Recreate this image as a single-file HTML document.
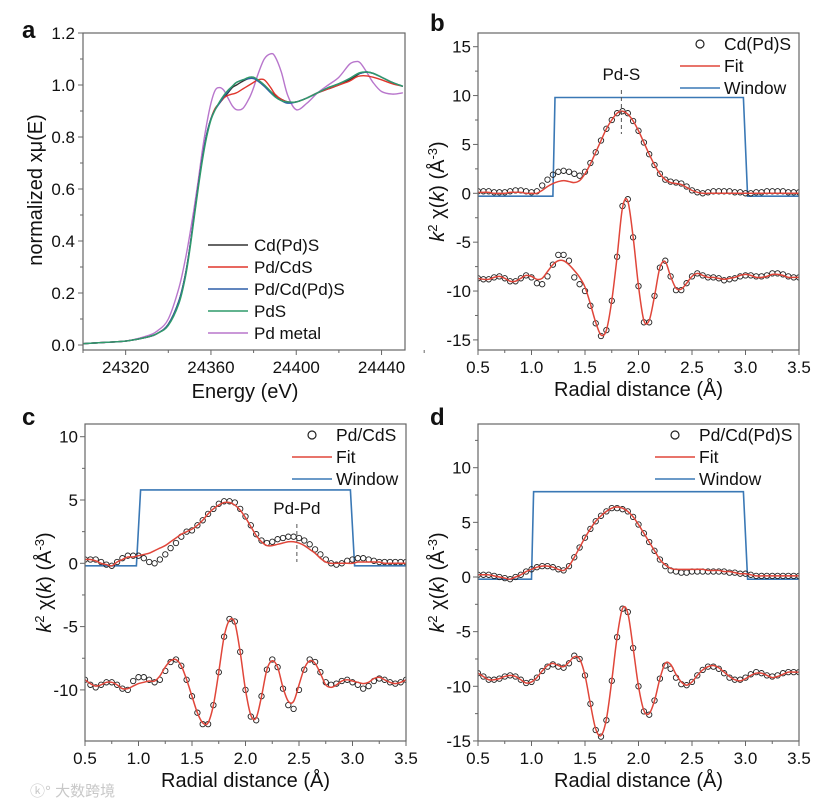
<!DOCTYPE html>
<html><head><meta charset="utf-8">
<style>
html,body{margin:0;padding:0;background:#fff;}
svg{display:block;font-family:"Liberation Sans","Noto Sans CJK SC",sans-serif;}
</style></head>
<body>
<svg id="fig" width="831" height="810" viewBox="0 0 831 810" xmlns="http://www.w3.org/2000/svg">
<text x="30" y="796" font-size="15" fill="#c8c8c8">ⓚ° 大数跨境</text>
</svg>
<script>
// ===== Panel a data =====
const energyA = [24300,24310,24320,24330,24335,24340,24345,24348,24350,24352,24354,24356,24358,24360,24362,24364,24366,24368,24370,24372,24375,24378,24380,24382,24385,24388,24390,24393,24396,24400,24405,24410,24415,24420,24425,24428,24430,24433,24436,24440,24445,24450];
const muCdPdS = [0.005,0.01,0.015,0.03,0.045,0.08,0.17,0.27,0.37,0.49,0.61,0.72,0.81,0.87,0.91,0.93,0.95,0.97,0.99,1.0,1.015,1.025,1.025,1.02,1.0,0.975,0.96,0.945,0.935,0.935,0.95,0.97,0.985,1.0,1.02,1.035,1.045,1.05,1.045,1.03,1.01,0.995];
const muPdCdS = [0.005,0.01,0.015,0.03,0.045,0.08,0.17,0.27,0.37,0.49,0.61,0.72,0.81,0.87,0.91,0.93,0.95,0.96,0.965,0.97,0.985,1.0,1.01,1.02,1.02,0.99,0.965,0.945,0.935,0.935,0.95,0.97,0.985,1.0,1.015,1.03,1.035,1.035,1.03,1.02,1.005,0.995];
const muPdCdPdS = [0.005,0.01,0.015,0.03,0.045,0.08,0.17,0.27,0.37,0.49,0.61,0.72,0.81,0.87,0.905,0.93,0.955,0.975,0.995,1.01,1.02,1.025,1.025,1.015,0.995,0.97,0.955,0.94,0.93,0.935,0.95,0.97,0.99,1.005,1.025,1.04,1.045,1.05,1.045,1.03,1.01,0.995];
const muPdS = [0.005,0.01,0.015,0.03,0.045,0.075,0.16,0.26,0.36,0.48,0.6,0.71,0.8,0.865,0.905,0.935,0.96,0.98,0.995,1.01,1.02,1.03,1.03,1.02,1.0,0.975,0.955,0.94,0.935,0.935,0.95,0.97,0.99,1.005,1.025,1.04,1.048,1.05,1.045,1.03,1.01,0.995];
const muPdMetal = [0.005,0.01,0.015,0.035,0.055,0.1,0.22,0.33,0.42,0.52,0.63,0.75,0.85,0.93,0.98,0.99,0.98,0.95,0.92,0.905,0.91,0.95,0.99,1.04,1.1,1.12,1.11,1.05,0.96,0.905,0.93,0.97,1.0,1.03,1.08,1.09,1.085,1.05,1.01,0.975,0.965,0.97];
const xTicksA = [24320,24360,24400,24440];
const yTicksA = ["0.0","0.2","0.4","0.6","0.8","1.0","1.2"];
const legendA = ["Cd(Pd)S","Pd/CdS","Pd/Cd(Pd)S","PdS","Pd metal"];

// ===== Radial grid shared by panels b-d =====
const radial = [0.5,0.55,0.6,0.65,0.7,0.75,0.8,0.85,0.9,0.95,1.0,1.05,1.1,1.15,1.2,1.25,1.3,1.35,1.4,1.45,1.5,1.55,1.6,1.65,1.7,1.75,1.8,1.85,1.9,1.95,2.0,2.05,2.1,2.15,2.2,2.25,2.3,2.35,2.4,2.45,2.5,2.55,2.6,2.65,2.7,2.75,2.8,2.85,2.9,2.95,3.0,3.05,3.1,3.15,3.2,3.25,3.3,3.35,3.4,3.45,3.5];
const xTicksR = ["0.5","1.0","1.5","2.0","2.5","3.0","3.5"];

// Panel b
const bTopFit = [0.1,0.1,0.1,0,0,0,0.1,0.1,0.1,0,0,0,0.3,0.7,1.0,1.2,1.3,1.2,1.1,1.3,2.0,3.0,4.2,5.4,6.6,7.5,8.2,8.4,8.1,7.4,6.4,5.2,4.0,2.9,2.0,1.4,1.1,1.0,0.9,0.6,0.3,0.1,0,0,0,0,0,0,0,0,0,0,0,0,0,0,0,0,0,0,0];
const bTopData = [0.2,0.2,0.2,0.1,0.1,0.1,0.2,0.3,0.3,0.2,0.1,0.2,0.8,1.4,1.9,2.2,2.3,2.2,2.0,1.8,2.2,3.1,4.2,5.4,6.6,7.5,8.2,8.4,8.2,7.4,6.4,5.2,4.0,2.9,2.0,1.4,1.2,1.1,1.0,0.7,0.3,0.1,0,0.1,0.2,0.2,0.2,0.2,0.1,0.1,0,0,0.1,0.1,0.2,0.2,0.2,0.2,0.1,0.1,0.1];
const bBotFit = [-8.7,-8.8,-8.8,-8.6,-8.5,-8.7,-9.0,-9.0,-8.7,-8.4,-8.5,-8.8,-8.7,-8.0,-7.3,-6.9,-6.9,-7.3,-7.9,-8.6,-9.6,-11.3,-13.2,-14.5,-14.0,-11.0,-6.5,-1.5,-0.8,-4.5,-9.5,-13.0,-13.0,-10.5,-7.6,-7.0,-8.5,-9.7,-9.8,-9.2,-8.5,-8.2,-8.4,-8.6,-8.6,-8.7,-8.8,-8.7,-8.6,-8.4,-8.3,-8.4,-8.6,-8.6,-8.5,-8.3,-8.3,-8.4,-8.6,-8.6,-8.6];
const bBotData = [-8.7,-8.8,-8.8,-8.6,-8.5,-8.7,-9.0,-9.0,-8.7,-8.4,-8.6,-9.2,-9.3,-8.5,-7.3,-6.3,-6.3,-6.9,-8.6,-9.3,-10.0,-11.5,-13.3,-14.6,-14.0,-11.0,-6.5,-1.3,-0.6,-4.5,-9.5,-13.2,-13.2,-10.5,-7.6,-6.9,-8.5,-9.9,-9.9,-9.2,-8.5,-8.2,-8.4,-8.6,-8.6,-8.7,-8.9,-8.8,-8.7,-8.5,-8.4,-8.4,-8.5,-8.5,-8.4,-8.2,-8.2,-8.3,-8.5,-8.6,-8.6];
const bWinR = [0.5,1.2,1.22,2.98,3.02,3.5];
const bWinV = [-0.3,-0.3,9.8,9.8,-0.3,-0.3];
const yTicksB = [-15,-10,-5,0,5,10,15];

// Panel c
const cTopFit = [0.3,0.3,0.2,0,-0.1,-0.2,0.1,0.3,0.5,0.5,0.6,0.7,0.8,1.0,1.2,1.4,1.7,2.0,2.3,2.5,2.7,3.0,3.4,3.9,4.3,4.6,4.8,4.8,4.6,4.2,3.6,2.9,2.2,1.7,1.4,1.4,1.5,1.6,1.7,1.7,1.6,1.4,1.1,0.8,0.4,0.1,0,0,0,0,0,0.1,0.1,0.1,0.1,0.1,0,0,0,0,0];
const cTopData = [0.3,0.3,0.3,0.1,-0.1,-0.2,0.1,0.4,0.6,0.6,0.6,0.4,0.1,0.0,0.3,0.7,1.2,1.6,2.1,2.5,2.6,3.0,3.4,3.9,4.3,4.7,4.9,4.9,4.8,4.3,3.7,3.0,2.3,1.8,1.6,1.7,1.9,2.0,2.1,2.1,2.0,1.8,1.5,1.1,0.7,0.3,0.0,-0.1,0.0,0.2,0.3,0.4,0.4,0.3,0.2,0.1,0.1,0.1,0.1,0.1,0.1];
const cBotFit = [-9.2,-9.5,-9.7,-9.6,-9.4,-9.4,-9.6,-9.9,-9.9,-9.7,-9.5,-9.4,-9.3,-9.3,-8.9,-8.2,-7.7,-7.6,-8.1,-9.2,-10.5,-11.8,-12.6,-12.6,-11.2,-8.6,-5.8,-4.5,-4.7,-7.0,-10.0,-12.0,-12.2,-10.5,-8.4,-7.7,-8.2,-9.8,-10.9,-10.9,-9.6,-8.3,-7.7,-7.9,-8.7,-9.6,-9.8,-9.6,-9.3,-9.2,-9.3,-9.4,-9.5,-9.4,-9.1,-9.0,-9.2,-9.4,-9.5,-9.4,-9.2];
const cBotData = [-9.2,-9.6,-9.8,-9.6,-9.4,-9.4,-9.6,-9.9,-10.0,-9.3,-9.0,-9.0,-9.2,-9.4,-9.2,-8.5,-7.8,-7.6,-8.1,-9.2,-10.5,-11.8,-12.7,-12.7,-11.2,-8.6,-5.8,-4.4,-4.6,-7.0,-10.0,-12.1,-12.4,-10.5,-8.4,-7.6,-8.2,-9.9,-11.2,-11.5,-10.0,-8.4,-7.6,-7.8,-8.6,-9.4,-9.6,-9.5,-9.3,-9.2,-9.4,-9.6,-9.9,-9.7,-9.3,-9.1,-9.2,-9.4,-9.5,-9.4,-9.2];
const cWinR = [0.5,0.98,1.02,2.98,3.02,3.5];
const cWinV = [-0.2,-0.2,5.8,5.8,-0.2,-0.2];
const yTicksC = [-10,-5,0,5,10];

// Panel d
const dTopFit = [0.2,0.2,0.2,0.1,0,-0.1,-0.2,0,0.2,0.5,0.7,0.9,1.0,1.0,0.9,0.7,0.6,1.0,1.8,2.7,3.6,4.4,5.1,5.6,6.0,6.3,6.4,6.3,6.0,5.5,4.8,4.0,3.2,2.4,1.6,1.1,0.8,0.7,0.7,0.7,0.7,0.7,0.7,0.6,0.6,0.6,0.5,0.5,0.4,0.3,0.3,0.2,0.1,0.1,0.1,0.1,0.1,0.1,0.1,0.1,0.1];
const dTopData = [0.2,0.2,0.2,0.1,0,-0.1,-0.2,0,0.2,0.5,0.7,0.9,1.0,1.0,0.9,0.7,0.6,1.0,1.8,2.7,3.6,4.4,5.1,5.6,6.0,6.3,6.3,6.2,6.0,5.5,4.8,4.0,3.2,2.4,1.6,1.0,0.6,0.5,0.4,0.4,0.5,0.5,0.5,0.5,0.5,0.5,0.5,0.4,0.4,0.3,0.3,0.2,0.1,0.1,0.1,0.1,0.1,0.1,0.1,0.1,0.1];
const dBotFit = [-8.8,-9.1,-9.4,-9.4,-9.3,-9.1,-9.0,-9.1,-9.4,-9.7,-9.6,-9.2,-8.6,-8.1,-7.9,-8.1,-8.2,-7.8,-7.3,-7.5,-9.0,-11.6,-13.9,-14.5,-13.0,-9.5,-5.5,-2.9,-3.3,-6.5,-10.0,-12.2,-12.5,-11.3,-9.3,-7.9,-8.0,-8.9,-9.6,-9.9,-9.6,-9.0,-8.5,-8.2,-8.1,-8.3,-8.7,-9.1,-9.4,-9.5,-9.3,-9.0,-8.8,-8.8,-9.0,-9.2,-9.1,-8.9,-8.7,-8.7,-8.7];
const dBotData = [-8.8,-9.1,-9.4,-9.4,-9.3,-9.1,-9.0,-9.1,-9.4,-9.7,-9.6,-9.2,-8.6,-8.2,-8.0,-8.2,-8.3,-7.9,-7.2,-7.5,-9.0,-11.6,-14.0,-14.6,-13.1,-9.5,-5.5,-2.9,-3.2,-6.5,-10.0,-12.3,-12.6,-11.3,-9.3,-8.1,-8.4,-9.2,-9.8,-9.9,-9.6,-9.0,-8.5,-8.2,-8.2,-8.4,-8.8,-9.2,-9.4,-9.4,-9.2,-8.9,-8.7,-8.8,-9.0,-9.1,-9.0,-8.8,-8.7,-8.7,-8.7];
const dWinR = [0.5,1.0,1.02,2.98,3.02,3.5];
const dWinV = [-0.2,-0.2,7.8,7.8,-0.2,-0.2];
const yTicksD = [-15,-10,-5,0,5,10];

const NS = "http://www.w3.org/2000/svg";
const fig = document.getElementById('fig');
function mk(tag, attrs, parent){
  const e = document.createElementNS(NS, tag);
  for (const k in attrs) e.setAttribute(k, attrs[k]);
  (parent||fig).appendChild(e);
  return e;
}
function scale(d0,d1,r0,r1){ return v => r0 + (v-d0)/(d1-d0)*(r1-r0); }
function smoothPath(xs, ys){
  let d = "M" + xs[0].toFixed(2) + "," + ys[0].toFixed(2);
  for (let i=0;i<xs.length-1;i++){
    const x0=xs[Math.max(i-1,0)], y0=ys[Math.max(i-1,0)];
    const x1=xs[i], y1=ys[i], x2=xs[i+1], y2=ys[i+1];
    const x3=xs[Math.min(i+2,xs.length-1)], y3=ys[Math.min(i+2,xs.length-1)];
    const c1x=x1+(x2-x0)/6, c1y=y1+(y2-y0)/6, c2x=x2-(x3-x1)/6, c2y=y2-(y3-y1)/6;
    d += " C"+c1x.toFixed(2)+","+c1y.toFixed(2)+" "+c2x.toFixed(2)+","+c2y.toFixed(2)+" "+x2.toFixed(2)+","+y2.toFixed(2);
  }
  return d;
}
function frame(g, x0,y0,x1,y1){
  const r = mk('rect',{x:x0,y:y0,width:x1-x0,height:y1-y0,fill:'none',stroke:'#666','stroke-width':1.2}, g);
  
  
}
function text(g, x, y, s, size, anchor, extra){
  const t = mk('text', Object.assign({x:x,y:y,'font-size':size,'text-anchor':anchor||'start',fill:'#111'}, extra||{}), g);
  t.textContent = s;
  return t;
}

// ===== Panel a =====
(function(){
  const g = mk('g',{});
  
  
  const X = scale(24300,24451,83,405), Y = scale(0,1.2,345,33);
  const colors = ['#333333','#e0362c','#2d5ea8','#2f9a6a','#b876cc'];
  const series = [muCdPdS,muPdCdS,muPdCdPdS,muPdS,muPdMetal];
  const order = [4,0,1,2,3];
  const clip = mk('clipPath',{id:'clipA'}, g); mk('rect',{x:83,y:33,width:322,height:317}, clip);
  order.forEach(i=>{
    const p = mk('path',{d:smoothPath(energyA.map(X), series[i].map(Y)),fill:'none',stroke:colors[i],'stroke-width':1.4,'clip-path':'url(#clipA)'}, g);
    
    
  });
  frame(g,83,33,405,350);
  xTicksA.forEach(v=>{
    mk('line',{x1:X(v),x2:X(v),y1:350,y2:355,stroke:'#666'},g);
    mk('line',{x1:X(v+20),x2:X(v+20),y1:350,y2:353,stroke:'#666'},g);
    const t = text(g, X(v), 373, String(v), 17, 'middle');
    
    
  });
  mk('line',{x1:X(24300),x2:X(24300),y1:350,y2:353,stroke:'#666'},g);
  yTicksA.forEach(v=>{
    const y = Y(parseFloat(v));
    mk('line',{x1:78,x2:83,y1:y,y2:y,stroke:'#666'},g);
    if (y-26 > 33) mk('line',{x1:80,x2:83,y1:y-26,y2:y-26,stroke:'#666'},g);
    const t = text(g, 75, y+6, v, 17, 'end');
    
    
  });
  const xt = text(g, 245, 398, 'Energy (eV)', 20, 'middle');
  
  
  const yt = text(g, 0, 0, 'normalized xμ(E)', 20, 'middle', {transform:'translate(42,190) rotate(-90)'});
  
  
  legendA.forEach((s,i)=>{
    const y = 245 + i*22;
    const l = mk('line',{x1:208,x2:248,y1:y,y2:y,stroke:colors[i],'stroke-width':1.6},g);
    
    
    const t = text(g, 254, y+6, s, 17);
    
    
  });
  const lab = text(g, 22, 38, 'a', 24, 'start', {'font-weight':'bold'});
  
  
})();

// ===== Panels b-d =====
function radialPanel(cfg){
  const g = mk('g',{});
  
  
  const X = scale(0.5,3.5,cfg.x0,cfg.x1), Y = scale(0,cfg.tickVal,cfg.zeroY,cfg.tickY);
  const cid = 'clip'+cfg.label;
  const clip = mk('clipPath',{id:cid}, g); mk('rect',{x:cfg.x0,y:cfg.y0,width:cfg.x1-cfg.x0,height:cfg.y1-cfg.y0}, clip);
  const win = mk('polyline',{points:cfg.winR.map((r,i)=>X(r).toFixed(1)+','+Y(cfg.winV[i]).toFixed(1)).join(' '),fill:'none',stroke:'#3a78b5','stroke-width':1.6,'clip-path':'url(#'+cid+')'},g);
  
  
  [cfg.topData,cfg.botData].forEach((arr,k)=>{
    radial.forEach((r,i)=>{
      const c = mk('circle',{cx:X(r).toFixed(1),cy:Y(arr[i]).toFixed(1),r:2.7,fill:'none',stroke:'#222','stroke-width':0.9,'clip-path':'url(#'+cid+')'},g);
      
      
    });
  });
  [cfg.topFit,cfg.botFit].forEach((arr,k)=>{
    const p = mk('path',{d:smoothPath(radial.map(X),arr.map(Y)),fill:'none',stroke:'#e0463a','stroke-width':1.5,'clip-path':'url(#'+cid+')'},g);
    
    
  });
  frame(g,cfg.x0,cfg.y0,cfg.x1,cfg.y1);
  xTicksR.forEach(s=>{
    const v = parseFloat(s), x = X(v);
    mk('line',{x1:x,x2:x,y1:cfg.y1,y2:cfg.y1+5,stroke:'#666'},g);
    if (v<3.5) mk('line',{x1:X(v+0.25),x2:X(v+0.25),y1:cfg.y1,y2:cfg.y1+3,stroke:'#666'},g);
    const t = text(g, x, cfg.y1+23, s, 17, 'middle');
    
    
  });
  cfg.yTicks.forEach(v=>{
    const y = Y(v);
    mk('line',{x1:cfg.x0-5,x2:cfg.x0,y1:y,y2:y,stroke:'#666'},g);
    const ym = Y(v+2.5);
    if (ym > cfg.y0) mk('line',{x1:cfg.x0-3,x2:cfg.x0,y1:ym,y2:ym,stroke:'#666'},g);
    const t = text(g, cfg.x0-7, y+6, String(v), 17, 'end');
    
    
  });
  const xt = text(g, (cfg.x0+cfg.x1)/2, cfg.y1+46, 'Radial distance (Å)', 20, 'middle');
  
  
  const yt = mk('text',{x:0,y:0,'font-size':20,'text-anchor':'middle',fill:'#111',transform:'translate('+(cfg.x0-34)+','+((cfg.y0+cfg.y1)/2)+') rotate(-90)'},g);
  yt.innerHTML = '<tspan font-style="italic">k</tspan><tspan font-size="13" dy="-7">2</tspan><tspan dy="7"> χ(</tspan><tspan font-style="italic">k</tspan><tspan>) (Å</tspan><tspan font-size="13" dy="-7">-3</tspan><tspan dy="7">)</tspan>';
  
  
  const lc = mk('circle',{cx:cfg.legX+20,cy:cfg.legY,r:4,fill:'none',stroke:'#222','stroke-width':1.2},g);
  
  
  const names = [cfg.sample,'Fit','Window'], cols=[null,'#e0463a','#3a78b5'];
  names.forEach((s,i)=>{
    const y = cfg.legY + i*22;
    if (i>0){
      const l = mk('line',{x1:cfg.legX,x2:cfg.legX+40,y1:y,y2:y,stroke:cols[i],'stroke-width':1.6},g);
      
      
    }
    const t = text(g, cfg.legX+44, y+6, s, 17.5);
    
    
  });
  if (cfg.ann){
    const ax = X(cfg.ann.r);
    const dl = mk('line',{x1:ax,x2:ax,y1:cfg.ann.yTop,y2:cfg.ann.yBot,stroke:'#555','stroke-width':1,'stroke-dasharray':'4,3'},g);
    
    
    const at = text(g, ax, cfg.ann.yTop-10, cfg.ann.text, 17, 'middle');
    
    
  }
  const lab = text(g, cfg.labX, cfg.labY, cfg.label, 24, 'start', {'font-weight':'bold'});
  
  
}

radialPanel({label:'b',x0:478,x1:799,y0:33,y1:350,zeroY:193.3,tickVal:15,tickY:46.7,yTicks:yTicksB,
  topFit:bTopFit,topData:bTopData,botFit:bBotFit,botData:bBotData,winR:bWinR,winV:bWinV,
  sample:'Cd(Pd)S',legX:680,legY:44,ann:{r:1.84,yTop:90,yBot:134,text:'Pd-S'},labX:430,labY:31});
radialPanel({label:'c',x0:85,x1:406,y0:424,y1:741,zeroY:563.3,tickVal:10,tickY:436.7,yTicks:yTicksC,
  topFit:cTopFit,topData:cTopData,botFit:cBotFit,botData:cBotData,winR:cWinR,winV:cWinV,
  sample:'Pd/CdS',legX:292,legY:435,ann:{r:2.48,yTop:524,yBot:562,text:'Pd-Pd'},labX:22,labY:425});
radialPanel({label:'d',x0:478,x1:799,y0:424,y1:741,zeroY:577,tickVal:10,tickY:467.7,yTicks:yTicksD,
  topFit:dTopFit,topData:dTopData,botFit:dBotFit,botData:dBotData,winR:dWinR,winV:dWinV,
  sample:'Pd/Cd(Pd)S',legX:655,legY:435,ann:null,labX:430,labY:425});
</script>
</body></html>
